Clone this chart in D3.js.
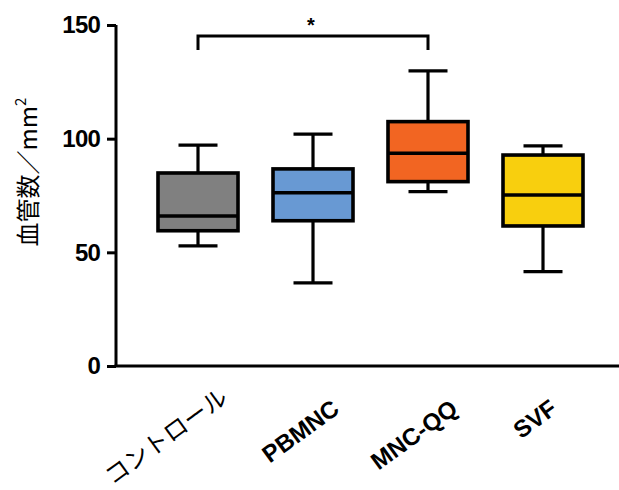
<!DOCTYPE html>
<html>
<head>
<meta charset="utf-8">
<script src="https://cdn.jsdelivr.net/npm/d3@7"></script>
<style>
  html, body { margin: 0; padding: 0; background: #fff; }
  svg { display: block; }
</style>
</head>
<body>
<svg id="chart" width="619" height="490"></svg>
<script>
// ---- data ----
const categories = ["コントロール", "PBMNC", "MNC-QQ", "SVF"];
const whiskerLow = [52.8, 36.6, 76.7, 41.5];
const q1 = [59.5, 63.9, 81.1, 61.6];
const medians = [66.0, 76.2, 93.6, 75.2];
const q3 = [84.9, 86.7, 107.5, 92.8];
const whiskerHigh = [97.2, 102.0, 129.8, 96.8];
const colors = ["#808080", "#6899d3", "#f26522", "#f8cf0e"];
const yTicks = [0, 50, 100, 150];
const bracketPair = ["コントロール", "MNC-QQ"];
const bracketTop = 145.2;
const bracketBottom = 139.0;
const bracketLabel = "*";

const svg = d3.select("#chart");
const x0 = 116, x1 = 619, yTop = 25, yBottom = 366;

const y = d3.scaleLinear().domain([0, 150]).range([yBottom, yTop]);
const x = d3.scalePoint().domain(categories).range([198, 543]);
const boxW = 80, capW = 39;
const sw = 3.2;

// axes
const yAxis = d3.axisLeft(y).tickValues(yTicks).tickSize(9).tickPadding(7).tickSizeOuter(0);
const gy = svg.append("g").attr("transform", `translate(${x0},0)`).call(yAxis);
gy.select(".domain").attr("stroke", "#000").attr("stroke-width", 3).attr("d", `M0,${yTop}V${yBottom}`);
gy.selectAll(".tick line").attr("stroke", "#000").attr("stroke-width", 3);
gy.selectAll(".tick text")
  .attr("font-family", "'Liberation Sans', Arial, sans-serif")
  .attr("font-weight", "bold").attr("font-size", 24).attr("fill", "#000")
  .attr("letter-spacing", -0.8);

svg.append("line").attr("x1", x0 - 1.5).attr("x2", x1).attr("y1", yBottom).attr("y2", yBottom)
  .attr("stroke", "#000").attr("stroke-width", 3);

// x labels (end-anchored, rotated)
const xl = svg.append("g").selectAll("text").data(categories).join("text")
  .attr("text-anchor", "end")
  .attr("font-family", d => d === categories[0] ? "'Noto Sans CJK JP', sans-serif" : "'Liberation Sans', Arial, sans-serif")
  .attr("font-weight", d => d === categories[0] ? "normal" : "bold")
  .attr("font-size", d => d === categories[0] ? 24 : 24)
  .attr("fill", "#000")
  .text(d => d);
xl.each(function (d) {
  const L = this.getComputedTextLength();
  const jp = d === categories[0];
  d3.select(this).attr("transform", `translate(${x(d) + (jp ? -11 : 2) + 0.294 * L},${jp ? 401 : 412}) rotate(-36)`);
});

// y label
const yl = svg.append("text")
  .attr("transform", `translate(37,172) rotate(-90)`)
  .attr("text-anchor", "middle")
  .attr("font-family", "'Noto Sans CJK JP', sans-serif")
  .attr("font-size", 24).attr("fill", "#000");
yl.append("tspan").text("血管数／mm");
yl.append("tspan").attr("font-size", 15).attr("dy", -11).text("2");

// boxes
const g = svg.append("g");
categories.forEach((c, i) => {
  const cx = x(c);
  g.append("line").attr("x1", cx).attr("x2", cx).attr("y1", y(whiskerHigh[i])).attr("y2", y(q3[i]))
    .attr("stroke", "#000").attr("stroke-width", sw);
  g.append("line").attr("x1", cx).attr("x2", cx).attr("y1", y(q1[i])).attr("y2", y(whiskerLow[i]))
    .attr("stroke", "#000").attr("stroke-width", sw);
  g.append("line").attr("x1", cx - capW / 2).attr("x2", cx + capW / 2).attr("y1", y(whiskerHigh[i])).attr("y2", y(whiskerHigh[i]))
    .attr("stroke", "#000").attr("stroke-width", sw);
  g.append("line").attr("x1", cx - capW / 2).attr("x2", cx + capW / 2).attr("y1", y(whiskerLow[i])).attr("y2", y(whiskerLow[i]))
    .attr("stroke", "#000").attr("stroke-width", sw);
  g.append("rect").attr("x", cx - boxW / 2).attr("width", boxW)
    .attr("y", y(q3[i])).attr("height", y(q1[i]) - y(q3[i]))
    .attr("fill", colors[i]).attr("stroke", "#000").attr("stroke-width", 3.6);
  g.append("line").attr("x1", cx - boxW / 2).attr("x2", cx + boxW / 2).attr("y1", y(medians[i])).attr("y2", y(medians[i]))
    .attr("stroke", "#000").attr("stroke-width", 3.6);
});

// significance bracket
const bx1 = x(bracketPair[0]), bx2 = x(bracketPair[1]);
svg.append("path")
  .attr("d", `M${bx1},${y(bracketBottom)}V${y(bracketTop)}H${bx2}V${y(bracketBottom)}`)
  .attr("fill", "none").attr("stroke", "#000").attr("stroke-width", 3);
svg.append("text").attr("x", (bx1 + bx2) / 2 - 2).attr("y", y(bracketTop))
  .attr("text-anchor", "middle")
  .attr("font-family", "'Liberation Sans', Arial, sans-serif").attr("font-weight", "bold")
  .attr("font-size", 20).attr("fill", "#000").attr("dy", -4)
  .text(bracketLabel);
</script>
</body>
</html>
